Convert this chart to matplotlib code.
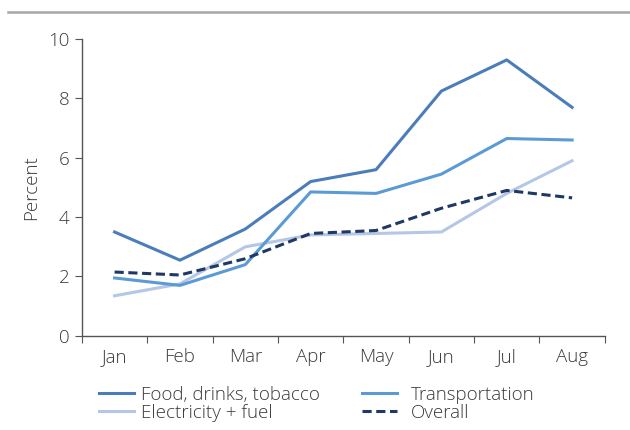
import numpy as np
import matplotlib.pyplot as plt
from matplotlib.lines import Line2D

plt.rcParams['font.family'] = ['Open Sans', 'DejaVu Sans']

months = ['Jan', 'Feb', 'Mar', 'Apr', 'May', 'Jun', 'Jul', 'Aug']
food = [3.5, 2.55, 3.6, 5.2, 5.6, 8.25, 9.3, 7.7]
transport = [1.95, 1.7, 2.4, 4.85, 4.8, 5.45, 6.65, 6.6]
electricity = [1.35, 1.75, 3.0, 3.4, 3.45, 3.5, 4.8, 5.9]
overall = [2.15, 2.05, 2.6, 3.45, 3.55, 4.3, 4.9, 4.65]

txt = '#3a3a3a'
fs = 13.5
fig = plt.figure(figsize=(6.3, 4.3), dpi=100)
ax = fig.add_axes([0.130, 0.219, 0.830, 0.690])

x = np.arange(len(months))
l1, = ax.plot(x, food, color='#4a7dba', lw=2.2)
l3, = ax.plot(x, electricity, color='#b4c7e7', lw=2.2)
l2, = ax.plot(x, transport, color='#5b9bd5', lw=2.2)
l4, = ax.plot(x, overall, color='#1f3864', lw=2.2, ls=(0, (3, 1.5)))

ax.set_xlim(-0.5, 7.5)
ax.set_ylim(0, 10)
ax.set_yticks([0, 2, 4, 6, 8, 10])
ax.set_yticklabels([0, 2, 4, 6, 8, 10], fontweight='light')
ax.set_xticks(np.arange(-0.5, 8, 1))
ax.set_xticklabels([])
ax.set_xticks(x, minor=True)
ax.set_xticklabels(months, minor=True, fontweight='light')
ax.tick_params(axis='x', which='minor', length=0, pad=9, labelsize=fs, labelcolor=txt)
ax.tick_params(axis='x', which='major', length=5, color='#555555')
ax.tick_params(axis='y', length=5, color='#555555', labelsize=fs, labelcolor=txt, pad=4)
for s in ['top', 'right']:
    ax.spines[s].set_visible(False)
for s in ['left', 'bottom']:
    ax.spines[s].set_color('#555555')
    ax.spines[s].set_linewidth(1)
ax.set_ylabel('Percent', fontsize=fs, color=txt, labelpad=6, fontweight='light')

# 图例：两个单列图例
lg_kw = dict(loc='upper left', frameon=False, borderpad=0, borderaxespad=0,
             labelspacing=0.0, handlelength=1.85, prop={'size': fs, 'weight': 'light'}, labelcolor=txt)
leg1 = fig.legend([l1, l3], ['Food, drinks, tobacco', 'Electricity + fuel'],
                  bbox_to_anchor=(0.157, 0.103), handletextpad=0.42, **lg_kw)
leg2 = fig.legend([l2, l4], ['Transportation', 'Overall'],
                  bbox_to_anchor=(0.575, 0.103), handletextpad=0.75, **lg_kw)

# 顶部灰线
fig.add_artist(Line2D([0.013, 1.0], [0.972, 0.972], color='#a6a6a6', lw=1.8, transform=fig.transFigure))

fig.savefig('out.png', dpi=100)
